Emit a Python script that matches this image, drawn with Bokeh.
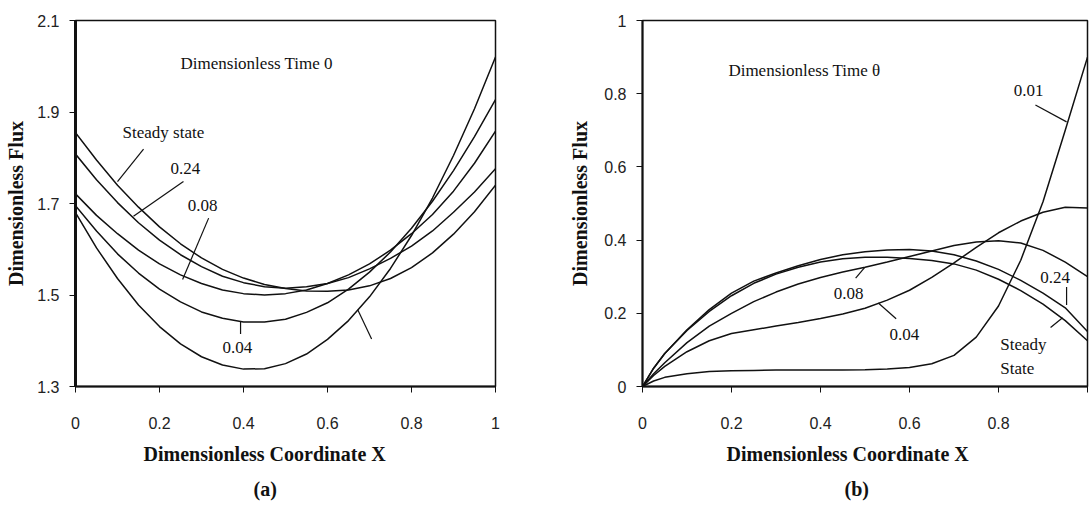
from bokeh.plotting import figure
from bokeh.layouts import row
from bokeh.models import Range1d, FixedTicker, Title
from bokeh.core.properties import value
from bokeh.embed import file_html
from bokeh.resources import INLINE

# ---------------- data: panel (a) ----------------
xa = [0, 0.05, 0.1, 0.15, 0.2, 0.25, 0.3, 0.35, 0.4, 0.45, 0.5,
      0.55, 0.6, 0.65, 0.7, 0.75, 0.8, 0.85, 0.9, 0.95, 1.0]
a_early = [1.680, 1.603, 1.536, 1.478, 1.431, 1.393, 1.365, 1.347, 1.338, 1.339, 1.350,
           1.371, 1.403, 1.444, 1.496, 1.558, 1.630, 1.712, 1.805, 1.907, 2.020]
a_004 = [1.695, 1.640, 1.590, 1.548, 1.513, 1.485, 1.463, 1.449, 1.441, 1.441, 1.447,
         1.462, 1.483, 1.513, 1.550, 1.594, 1.646, 1.705, 1.772, 1.846, 1.927]
a_008 = [1.721, 1.674, 1.634, 1.598, 1.568, 1.544, 1.525, 1.511, 1.503, 1.500, 1.503,
         1.511, 1.525, 1.544, 1.568, 1.598, 1.634, 1.676, 1.727, 1.788, 1.858]
a_024 = [1.808, 1.752, 1.702, 1.658, 1.620, 1.588, 1.562, 1.541, 1.527, 1.518, 1.515,
         1.518, 1.525, 1.538, 1.557, 1.580, 1.607, 1.640, 1.681, 1.725, 1.776]
a_ss = [1.855, 1.795, 1.740, 1.692, 1.649, 1.612, 1.581, 1.556, 1.537, 1.523, 1.514,
        1.509, 1.508, 1.511, 1.520, 1.536, 1.560, 1.592, 1.633, 1.682, 1.740]
a_yticks = [1.3, 1.5, 1.7, 1.9, 2.1]
a_xticks = [0, 0.2, 0.4, 0.6, 0.8, 1.0]

# curve labels (a)
a_lab_text = ["Steady state", "0.24", "0.08", "0.04"]
a_lab_x = [0.112, 0.226, 0.267, 0.35]
a_lab_y = [1.855, 1.776, 1.696, 1.386]
a_lead_x0 = [0.162, 0.257, 0.317, 0.393, 0.672]
a_lead_y0 = [1.819, 1.748, 1.668, 1.441, 1.468]
a_lead_x1 = [0.100, 0.138, 0.255, 0.393, 0.705]
a_lead_y1 = [1.748, 1.672, 1.534, 1.415, 1.404]

# ---------------- data: panel (b) ----------------
xb = [0, 0.025, 0.05, 0.1, 0.15, 0.2, 0.25, 0.3, 0.35, 0.4, 0.45, 0.5,
      0.55, 0.6, 0.65, 0.7, 0.75, 0.8, 0.85, 0.9, 0.95, 1.0]
b_001 = [0, 0.015, 0.025, 0.035, 0.041, 0.043, 0.044, 0.045, 0.045, 0.045, 0.045, 0.046,
         0.048, 0.052, 0.062, 0.085, 0.135, 0.220, 0.345, 0.505, 0.700, 0.900]
b_004 = [0, 0.030, 0.055, 0.095, 0.125, 0.145, 0.155, 0.165, 0.175, 0.186, 0.198, 0.214,
         0.236, 0.263, 0.298, 0.338, 0.380, 0.420, 0.452, 0.476, 0.490, 0.488]
b_008 = [0, 0.035, 0.065, 0.120, 0.165, 0.200, 0.232, 0.258, 0.280, 0.298, 0.313, 0.326,
         0.340, 0.355, 0.370, 0.385, 0.395, 0.398, 0.392, 0.372, 0.340, 0.300]
b_024 = [0, 0.050, 0.090, 0.155, 0.210, 0.255, 0.288, 0.310, 0.330, 0.347, 0.360, 0.368,
         0.373, 0.374, 0.370, 0.360, 0.343, 0.320, 0.290, 0.255, 0.215, 0.150]
b_ss = [0, 0.050, 0.090, 0.153, 0.205, 0.248, 0.282, 0.307, 0.326, 0.340, 0.349, 0.353,
        0.353, 0.350, 0.344, 0.335, 0.318, 0.293, 0.262, 0.225, 0.180, 0.125]
b_yticks = [0, 0.2, 0.4, 0.6, 0.8, 1.0]
b_xticks = [0, 0.2, 0.4, 0.6, 0.8, 1.0]

b_lab_text = ["0.01", "0.08", "0.04", "0.24", "Steady", "State"]
b_lab_x = [0.834, 0.43, 0.555, 0.894, 0.804, 0.804]
b_lab_y = [0.81, 0.253, 0.142, 0.298, 0.116, 0.048]
b_lead_x0 = [0.883, 0.479, 0.570, 0.953, 0.917]
b_lead_y0 = [0.769, 0.296, 0.185, 0.272, 0.161]
b_lead_x1 = [0.953, 0.499, 0.530, 0.953, 0.944]
b_lead_y1 = [0.723, 0.325, 0.228, 0.223, 0.188]

SERIF = "Liberation Serif"
SANS = "Liberation Sans"
INK = "#111111"


def style(p, yticks, xticks, yover, xover, left_w, ylab_standoff):
    p.xgrid.visible = False
    p.ygrid.visible = False
    p.outline_line_color = INK
    p.outline_line_width = 1.5
    for ax in (p.xaxis[0], p.yaxis[0]):
        ax.axis_line_color = INK
        ax.major_tick_line_color = INK
        ax.major_tick_in = 0
        ax.major_tick_out = 6
        ax.minor_tick_line_color = None
        ax.major_label_text_font = SANS
        ax.major_label_text_font_size = "16px"
        ax.major_label_text_color = "#222222"
        ax.axis_label_text_font = SERIF
        ax.axis_label_text_font_style = "bold"
        ax.axis_label_text_font_size = "20px"
        ax.axis_label_text_color = INK
    p.yaxis[0].axis_line_width = left_w
    p.xaxis[0].axis_line_width = 2
    p.yaxis[0].ticker = FixedTicker(ticks=yticks)
    p.xaxis[0].ticker = FixedTicker(ticks=xticks)
    p.yaxis[0].major_label_overrides = yover
    p.xaxis[0].major_label_overrides = xover
    p.yaxis[0].major_label_standoff = 10
    p.xaxis[0].major_label_standoff = 24
    p.yaxis[0].axis_label_standoff = ylab_standoff
    p.yaxis[0].axis_label = "Dimensionless Flux"


def caption(p, off_title, off_tag, tag):
    p.add_layout(Title(text="Dimensionless Coordinate X", align="left", offset=off_title,
                       text_font=SERIF, text_font_style="bold", text_font_size="20px",
                       text_color=INK, standoff=18), "below")
    p.add_layout(Title(text=tag, align="left", offset=off_tag,
                       text_font=SERIF, text_font_style="bold", text_font_size="20px",
                       text_color=INK, standoff=4), "below")


# ---------------- panel (a) ----------------
pa = figure(width=545, height=505, x_range=Range1d(0, 1), y_range=Range1d(1.3, 2.1),
            output_backend="svg", toolbar_location=None,
            min_border_left=75, min_border_right=50, min_border_top=20, min_border_bottom=115)
style(pa, a_yticks, a_xticks,
      {t: ("%g" % t) for t in a_yticks}, {t: ("%g" % t) for t in a_xticks}, 3, 7)
for ys in (a_early, a_004, a_008, a_024, a_ss):
    pa.line(xa, ys, line_color=INK, line_width=1.5)
pa.segment(a_lead_x0, a_lead_y0, a_lead_x1, a_lead_y1, line_color=INK, line_width=1.2)
pa.text(a_lab_x, a_lab_y, text=a_lab_text, text_font=value(SERIF), text_font_size="17px",
        text_baseline="middle", text_align="left", text_color=INK)
pa.text([0.25], [2.007], text=["Dimensionless Time 0"], text_font=value(SERIF),
        text_font_size="17px", text_baseline="middle", text_align="left", text_color=INK)
caption(pa, 68, 178, "(a)")

# ---------------- panel (b) ----------------
pb = figure(width=544, height=505, x_range=Range1d(0, 1), y_range=Range1d(0, 1),
            output_backend="svg", toolbar_location=None,
            min_border_left=97, min_border_right=2, min_border_top=14, min_border_bottom=119)
style(pb, b_yticks, b_xticks,
      {t: ("%g" % t) for t in b_yticks}, {t: ("" if t == 1.0 else "%g" % t) for t in b_xticks},
      2, 10)
for ys in (b_001, b_004, b_008, b_024, b_ss):
    pb.line(xb, ys, line_color=INK, line_width=1.5)
pb.segment(b_lead_x0, b_lead_y0, b_lead_x1, b_lead_y1, line_color=INK, line_width=1.2)
pb.text(b_lab_x, b_lab_y, text=b_lab_text, text_font=value(SERIF), text_font_size="17px",
        text_baseline="middle", text_align="left", text_color=INK)
pb.text([0.193], [0.863], text=["Dimensionless Time θ"], text_font=value(SERIF),
        text_font_size="17px", text_baseline="middle", text_align="left", text_color=INK)
caption(pb, 84, 202, "(b)")

layout = row(pa, pb)
open("out.html", "w").write(file_html(layout, INLINE))
